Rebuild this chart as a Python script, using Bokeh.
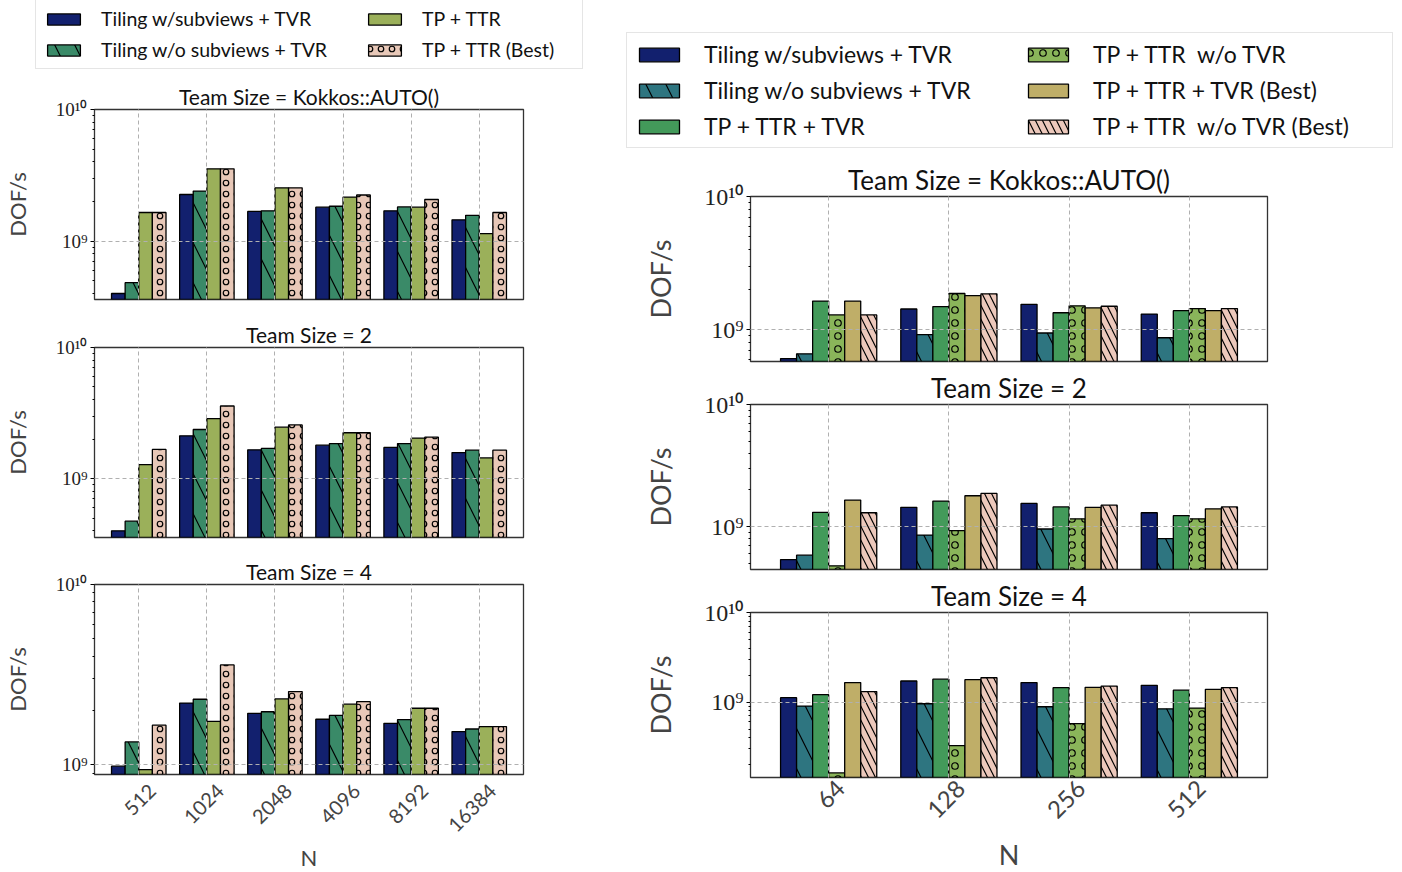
import math
from bokeh.plotting import figure
from bokeh.models import Range1d, FixedTicker, Legend, LegendItem, ColumnDataSource
from bokeh.layouts import column, row
from bokeh.embed import file_html
from bokeh.resources import INLINE

SANS = "Lato"
SERIF = "Liberation Serif"
NB = "\u00a0"

# ---------------- data: left chart ----------------
left_cats = ["512", "1024", "2048", "4096", "8192", "16384"]
left_labels = ["Tiling w/subviews + TVR", "Tiling w/o subviews + TVR", "TP + TTR", "TP + TTR (Best)"]
left_titles = ["Team Size = Kokkos::AUTO()", "Team Size = 2", "Team Size = 4"]

L_auto_tiling_sub = [4.0e8, 2.26e9, 1.68e9, 1.81e9, 1.70e9, 1.45e9]
L_auto_tiling_nosub = [4.83e8, 2.40e9, 1.70e9, 1.84e9, 1.82e9, 1.57e9]
L_auto_tp_ttr = [1.65e9, 3.54e9, 2.54e9, 2.16e9, 1.81e9, 1.14e9]
L_auto_tp_ttr_best = [1.65e9, 3.54e9, 2.54e9, 2.24e9, 2.07e9, 1.65e9]

L_ts2_tiling_sub = [4.0e8, 2.12e9, 1.66e9, 1.80e9, 1.73e9, 1.58e9]
L_ts2_tiling_nosub = [4.74e8, 2.37e9, 1.70e9, 1.85e9, 1.85e9, 1.65e9]
L_ts2_tp_ttr = [1.28e9, 2.87e9, 2.47e9, 2.24e9, 2.04e9, 1.44e9]
L_ts2_tp_ttr_best = [1.67e9, 3.58e9, 2.57e9, 2.24e9, 2.07e9, 1.65e9]

L_ts4_tiling_sub = [0.983e9, 2.20e9, 1.93e9, 1.79e9, 1.70e9, 1.53e9]
L_ts4_tiling_nosub = [1.34e9, 2.31e9, 1.97e9, 1.88e9, 1.78e9, 1.58e9]
L_ts4_tp_ttr = [0.94e9, 1.74e9, 2.32e9, 2.17e9, 2.06e9, 1.63e9]
L_ts4_tp_ttr_best = [1.66e9, 3.58e9, 2.55e9, 2.24e9, 2.06e9, 1.63e9]

left_ybottom = [3.6e8, 3.56e8, 8.84e8]

# ---------------- data: right chart ----------------
right_cats = ["64", "128", "256", "512"]
right_labels = ["Tiling w/subviews + TVR", "Tiling w/o subviews + TVR", "TP + TTR + TVR",
                "TP + TTR" + NB + NB + "w/o TVR", "TP + TTR + TVR (Best)",
                "TP + TTR" + NB + NB + "w/o TVR (Best)"]
right_titles = ["Team Size = Kokkos::AUTO()", "Team Size = 2", "Team Size = 4"]

R_auto_tiling_sub = [6.07e8, 1.43e9, 1.55e9, 1.31e9]
R_auto_tiling_nosub = [6.59e8, 9.17e8, 9.44e8, 8.70e8]
R_auto_tp_ttr_tvr = [1.64e9, 1.49e9, 1.34e9, 1.39e9]
R_auto_tp_ttr_notvr = [1.29e9, 1.87e9, 1.51e9, 1.44e9]
R_auto_tp_ttr_tvr_best = [1.64e9, 1.80e9, 1.46e9, 1.39e9]
R_auto_tp_ttr_notvr_best = [1.29e9, 1.86e9, 1.50e9, 1.44e9]

R_ts2_tiling_sub = [5.38e8, 1.44e9, 1.55e9, 1.30e9]
R_ts2_tiling_nosub = [5.84e8, 8.54e8, 9.57e8, 7.97e8]
R_ts2_tp_ttr_tvr = [1.31e9, 1.62e9, 1.45e9, 1.23e9]
R_ts2_tp_ttr_notvr = [4.78e8, 9.27e8, 1.16e9, 1.16e9]
R_ts2_tp_ttr_tvr_best = [1.65e9, 1.79e9, 1.44e9, 1.40e9]
R_ts2_tp_ttr_notvr_best = [1.30e9, 1.87e9, 1.50e9, 1.45e9]

R_ts4_tiling_sub = [1.12e9, 1.72e9, 1.65e9, 1.54e9]
R_ts4_tiling_nosub = [9.02e8, 9.58e8, 8.87e8, 8.42e8]
R_ts4_tp_ttr_tvr = [1.21e9, 1.80e9, 1.45e9, 1.36e9]
R_ts4_tp_ttr_notvr = [1.62e8, 3.26e8, 5.76e8, 8.57e8]
R_ts4_tp_ttr_tvr_best = [1.65e9, 1.78e9, 1.46e9, 1.39e9]
R_ts4_tp_ttr_notvr_best = [1.31e9, 1.87e9, 1.51e9, 1.45e9]

right_ybottom = [5.77e8, 4.46e8, 1.44e8]

# ---------------- styles ----------------
left_styles = [
    dict(fill_color="#12206e"),
    dict(fill_color="#3a8a68", hatch_pattern="\\", hatch_scale=40),
    dict(fill_color="#9bb05a"),
    dict(fill_color="#e8c8b8", hatch_pattern="o", hatch_scale=11),
]
right_styles = [
    dict(fill_color="#12206e"),
    dict(fill_color="#2e7580", hatch_pattern="\\", hatch_scale=40),
    dict(fill_color="#439a5a"),
    dict(fill_color="#8ab55a", hatch_pattern="o", hatch_scale=13),
    dict(fill_color="#bfae68"),
    dict(fill_color="#ecc8bb", hatch_pattern="\\", hatch_scale=14),
]

MINOR = [k * 10 ** e for e in (7, 8, 9) for k in range(2, 10)]


def hatch_kw(st):
    if "hatch_pattern" in st:
        return dict(hatch_pattern=st["hatch_pattern"], hatch_scale=st["hatch_scale"],
                    hatch_color="black", hatch_weight=1.2)
    return {}


def make_panel(cats, values, styles, title, ylo, fw, fh, bl, bt, bb, br, show_x, fs):
    n = len(values)
    w = 0.8 / n
    p = figure(frame_width=fw, frame_height=fh, y_axis_type="log",
               x_range=Range1d(-0.65, len(cats) - 1 + 0.65), y_range=Range1d(ylo, 1e10),
               output_backend="svg", toolbar_location=None,
               min_border_left=bl, min_border_top=bt, min_border_bottom=bb, min_border_right=br)
    idx = list(range(len(cats)))
    for k, (vals, st) in enumerate(zip(values, styles)):
        off = (k - (n - 1) / 2) * w
        src = ColumnDataSource(dict(x=[i + off for i in idx], top=vals, bottom=[1e6] * len(vals)))
        p.vbar(x="x", top="top", bottom="bottom", width=w, source=src,
               fill_color=st["fill_color"], line_color="black", line_width=1.3, **hatch_kw(st))

    p.title.text = title
    p.title.align = "center"
    p.title.text_font = SANS
    p.title.text_font_size = fs["title"]
    p.title.text_font_style = "normal"
    p.title.text_color = "#111111"
    p.title.standoff = 1

    p.outline_line_color = "#333333"
    p.outline_line_width = 1.3

    p.xgrid.ticker = FixedTicker(ticks=idx)
    p.ygrid.ticker = FixedTicker(ticks=[1e9, 1e10])
    for g in (p.xgrid, p.ygrid):
        g.grid_line_color = "#b0b0b0"
        g.grid_line_dash = "4 3"
        g.grid_line_width = 1
        g.level = "annotation"

    p.axis.axis_line_color = None
    p.yaxis.ticker = FixedTicker(ticks=[1e9, 1e10], minor_ticks=MINOR)
    p.yaxis.major_label_overrides = {10 ** 9: "10\u2079", 10 ** 10: "10\u00b9\u2070"}
    p.yaxis.major_label_text_font = SERIF
    p.yaxis.major_label_text_font_size = fs["ytick"]
    p.yaxis.major_label_text_color = "#222222"
    p.yaxis.major_tick_in = 0
    p.yaxis.major_tick_out = 4
    p.yaxis.minor_tick_in = 0
    p.yaxis.minor_tick_out = 2
    p.yaxis.major_label_standoff = 3
    p.yaxis.axis_label = "DOF/s"
    p.yaxis.axis_label_text_font = SANS
    p.yaxis.axis_label_text_font_style = "normal"
    p.yaxis.axis_label_text_font_size = fs["ylab"]
    p.yaxis.axis_label_standoff = fs["ylab_standoff"]

    p.xaxis.major_tick_in = 0
    p.xaxis.major_tick_out = 0
    p.xaxis.minor_tick_out = 0
    if show_x:
        # rotated labels: anchor shifted so each label is centred under its category
        sh = fs["xlabel_shift"]
        p.xaxis.ticker = FixedTicker(ticks=[i + sh for i in idx])
        p.xaxis.major_label_overrides = {i + sh: c for i, c in enumerate(cats)}
        p.xaxis.major_label_orientation = math.pi / 4
        p.xaxis.major_label_text_font = SANS
        p.xaxis.major_label_text_font_size = fs["xtick"]
        p.xaxis.major_label_standoff = fs["xtick_standoff"]
        p.xaxis.axis_label = "N"
        p.xaxis.axis_label_text_font = SANS
        p.xaxis.axis_label_text_font_style = "normal"
        p.xaxis.axis_label_text_font_size = fs["xlab"]
        p.xaxis.axis_label_standoff = fs["xlab_standoff"]
    else:
        p.xaxis.ticker = FixedTicker(ticks=idx)
        p.xaxis.major_label_text_font_size = "0px"
        p.xaxis.major_label_standoff = 0
    return p


def make_legend_fig(width, height, labels, styles, box, col2_x, col2_dy, fs, gw, gh, spacing,
                    padding, standoff):
    # box = (left, right, bottom) in pixels from the figure's bottom-left corner
    p = figure(width=width, height=height, x_range=Range1d(0, 1), y_range=Range1d(0, 1),
               output_backend="svg", toolbar_location=None, min_border=0,
               x_axis_location=None, y_axis_location=None)
    p.frame_align = False
    p.grid.visible = False
    p.outline_line_color = None
    half = (len(labels) + 1) // 2
    rs = []
    for st in styles:
        # legend-only renderers, kept entirely outside the visible range
        rs.append(p.vbar(x=[5], top=[-5], bottom=[-6], width=0.1, fill_color=st["fill_color"],
                         line_color="black", line_width=1.3, **hatch_kw(st)))
    left, right, bottom = box
    lw = (right - left) - 2 * padding - gw - standoff
    common = dict(label_text_font=SANS, label_text_font_size=fs, label_text_color="#111111",
                  glyph_width=gw, glyph_height=gh, spacing=spacing, padding=padding,
                  label_standoff=standoff, margin=0, orientation="vertical")
    legA = Legend(items=[LegendItem(label=l, renderers=[r]) for l, r in zip(labels[:half], rs[:half])],
                  location=(left, bottom), label_width=lw,
                  border_line_color="#cccccc", border_line_width=1,
                  background_fill_color="white", background_fill_alpha=1, **common)
    legB = Legend(items=[LegendItem(label=l, renderers=[r]) for l, r in zip(labels[half:], rs[half:])],
                  location=(col2_x - padding, bottom + col2_dy),
                  border_line_color=None, background_fill_alpha=0, **common)
    p.add_layout(legA)
    p.add_layout(legB)
    return p


left_values = [
    [L_auto_tiling_sub, L_auto_tiling_nosub, L_auto_tp_ttr, L_auto_tp_ttr_best],
    [L_ts2_tiling_sub, L_ts2_tiling_nosub, L_ts2_tp_ttr, L_ts2_tp_ttr_best],
    [L_ts4_tiling_sub, L_ts4_tiling_nosub, L_ts4_tp_ttr, L_ts4_tp_ttr_best],
]
right_values = [
    [R_auto_tiling_sub, R_auto_tiling_nosub, R_auto_tp_ttr_tvr, R_auto_tp_ttr_notvr,
     R_auto_tp_ttr_tvr_best, R_auto_tp_ttr_notvr_best],
    [R_ts2_tiling_sub, R_ts2_tiling_nosub, R_ts2_tp_ttr_tvr, R_ts2_tp_ttr_notvr,
     R_ts2_tp_ttr_tvr_best, R_ts2_tp_ttr_notvr_best],
    [R_ts4_tiling_sub, R_ts4_tiling_nosub, R_ts4_tp_ttr_tvr, R_ts4_tp_ttr_notvr,
     R_ts4_tp_ttr_tvr_best, R_ts4_tp_ttr_notvr_best],
]

left_fs = dict(title="21px", ytick="19px", ylab="22px", ylab_standoff=22, xtick="20px",
               xtick_standoff=13, xlab="22px", xlab_standoff=3, xlabel_shift=0.2)
right_fs = dict(title="26px", ytick="24px", ylab="27px", ylab_standoff=24, xtick="24px",
                xtick_standoff=7, xlab="27px", xlab_standoff=9, xlabel_shift=0.1)

# left column: frame x 92..521, column width 608
legL = make_legend_fig(608, 78, left_labels, left_styles,
                       (35, 581, 78 - 69), 371, 8, "19.5px", 41, 14, 8, 7, 17)
left_tb = [(31, 10), (38, 10), (37, 95)]
left_panels = []
for i in range(3):
    bt, bb = left_tb[i]
    left_panels.append(make_panel(left_cats, left_values[i], left_styles, left_titles[i],
                                  left_ybottom[i], 429, 190, 92, bt, bb, 87, i == 2, left_fs))
left_col = column(legL, *left_panels, spacing=0)

# right column starts at x=608: frame x 748..1265, column width 786
legR = make_legend_fig(786, 160, right_labels, right_styles,
                       (624 - 608, 1389 - 608, 160 - 148), 1028 - 608, 8, "23px", 50, 17, 8, 7, 20)
right_tb = [(36, 8), (32, 8), (33, 97)]
right_panels = []
for i in range(3):
    bt, bb = right_tb[i]
    right_panels.append(make_panel(right_cats, right_values[i], right_styles, right_titles[i],
                                   right_ybottom[i], 517, 165, 140, bt, bb, 129, i == 2, right_fs))
right_col = column(legR, *right_panels, spacing=0)

layout = row(left_col, right_col, spacing=0)

open("out.html", "w").write(file_html(layout, INLINE))
